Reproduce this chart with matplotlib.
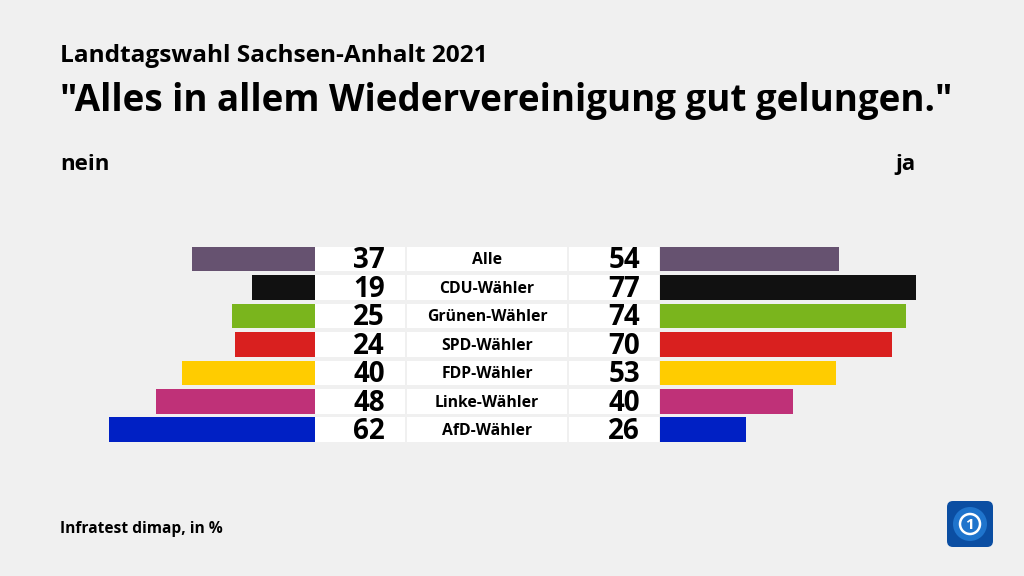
import matplotlib.pyplot as plt
from matplotlib.patches import FancyBboxPatch, Circle

# Data
groups = ["Alle", "CDU-Wähler", "Grünen-Wähler", "SPD-Wähler", "FDP-Wähler", "Linke-Wähler", "AfD-Wähler"]
nein = [37, 19, 25, 24, 40, 48, 62]
ja = [54, 77, 74, 70, 53, 40, 26]
colors = ["#665270", "#111111", "#7ab51d", "#d9201f", "#ffcc00", "#bf3178", "#0020c4"]

title = '"Alles in allem Wiedervereinigung gut gelungen."'
subtitle = "Landtagswahl Sachsen-Anhalt 2021"
source = "Infratest dimap, in %"

BG = "#f0f0f0"
FONT = "Open Sans"


def main():
    fig = plt.figure(figsize=(10.24, 5.76), dpi=100, facecolor=BG)
    # one axes in pixel units over the whole figure
    ax = fig.add_axes([0, 0, 1, 1])
    ax.set_xlim(0, 1024)
    ax.set_ylim(576, 0)
    ax.axis("off")
    ax.set_facecolor(BG)

    px = 3.32          # pixels per percent
    left0, right0 = 315, 660
    y = [259 + 28.45 * i for i in range(len(groups))]
    h = 24.5

    # bars
    ax.barh(y, [v * px for v in nein], left=[left0 - v * px for v in nein],
            height=h, color=colors)
    ax.barh(y, [v * px for v in ja], left=right0, height=h, color=colors)

    # white boxes in the middle
    ax.barh(y, 90, left=315, height=h, color="white")
    ax.barh(y, 160, left=407, height=h, color="white")
    ax.barh(y, 90, left=569, height=h, color="white")

    for yi, g, n, j in zip(y, groups, nein, ja):
        ax.text(385, yi + 2, str(n), ha="right", va="center", fontsize=20,
                fontweight="bold", family=FONT)
        ax.text(640, yi + 2, str(j), ha="right", va="center", fontsize=20,
                fontweight="bold", family=FONT)
        ax.text(487, yi + 1.5, g, ha="center", va="center", fontsize=11.3,
                fontweight="bold", family=FONT)

    # titles
    ax.text(60, 62, subtitle, fontsize=17.6, fontweight="bold", family=FONT, va="baseline")
    ax.text(60, 111, title, fontsize=26.5, fontweight="bold", family=FONT, va="baseline")
    ax.text(60, 170, "nein", fontsize=16, fontweight="bold", family=FONT, va="baseline")
    ax.text(915, 170, "ja", fontsize=16, fontweight="bold", family=FONT, va="baseline", ha="right")
    ax.text(60, 533, source, fontsize=11.2, fontweight="bold", family=FONT, va="baseline")

    # logo
    ax.add_patch(FancyBboxPatch((948, 502), 44, 44, boxstyle="round,pad=1,rounding_size=6",
                                facecolor="#0b4ea2", edgecolor="none"))
    ax.add_patch(Circle((970, 524), 17, facecolor="#1f74cc", edgecolor="none"))
    ax.add_patch(Circle((970, 524), 10, facecolor="none", edgecolor="white", linewidth=1.8))
    ax.text(970, 525, "1", ha="center", va="center", color="white", fontsize=11,
            fontweight="bold", family=FONT)

    fig.savefig("out.png", dpi=100, facecolor=BG)


if __name__ == "__main__":
    main()
